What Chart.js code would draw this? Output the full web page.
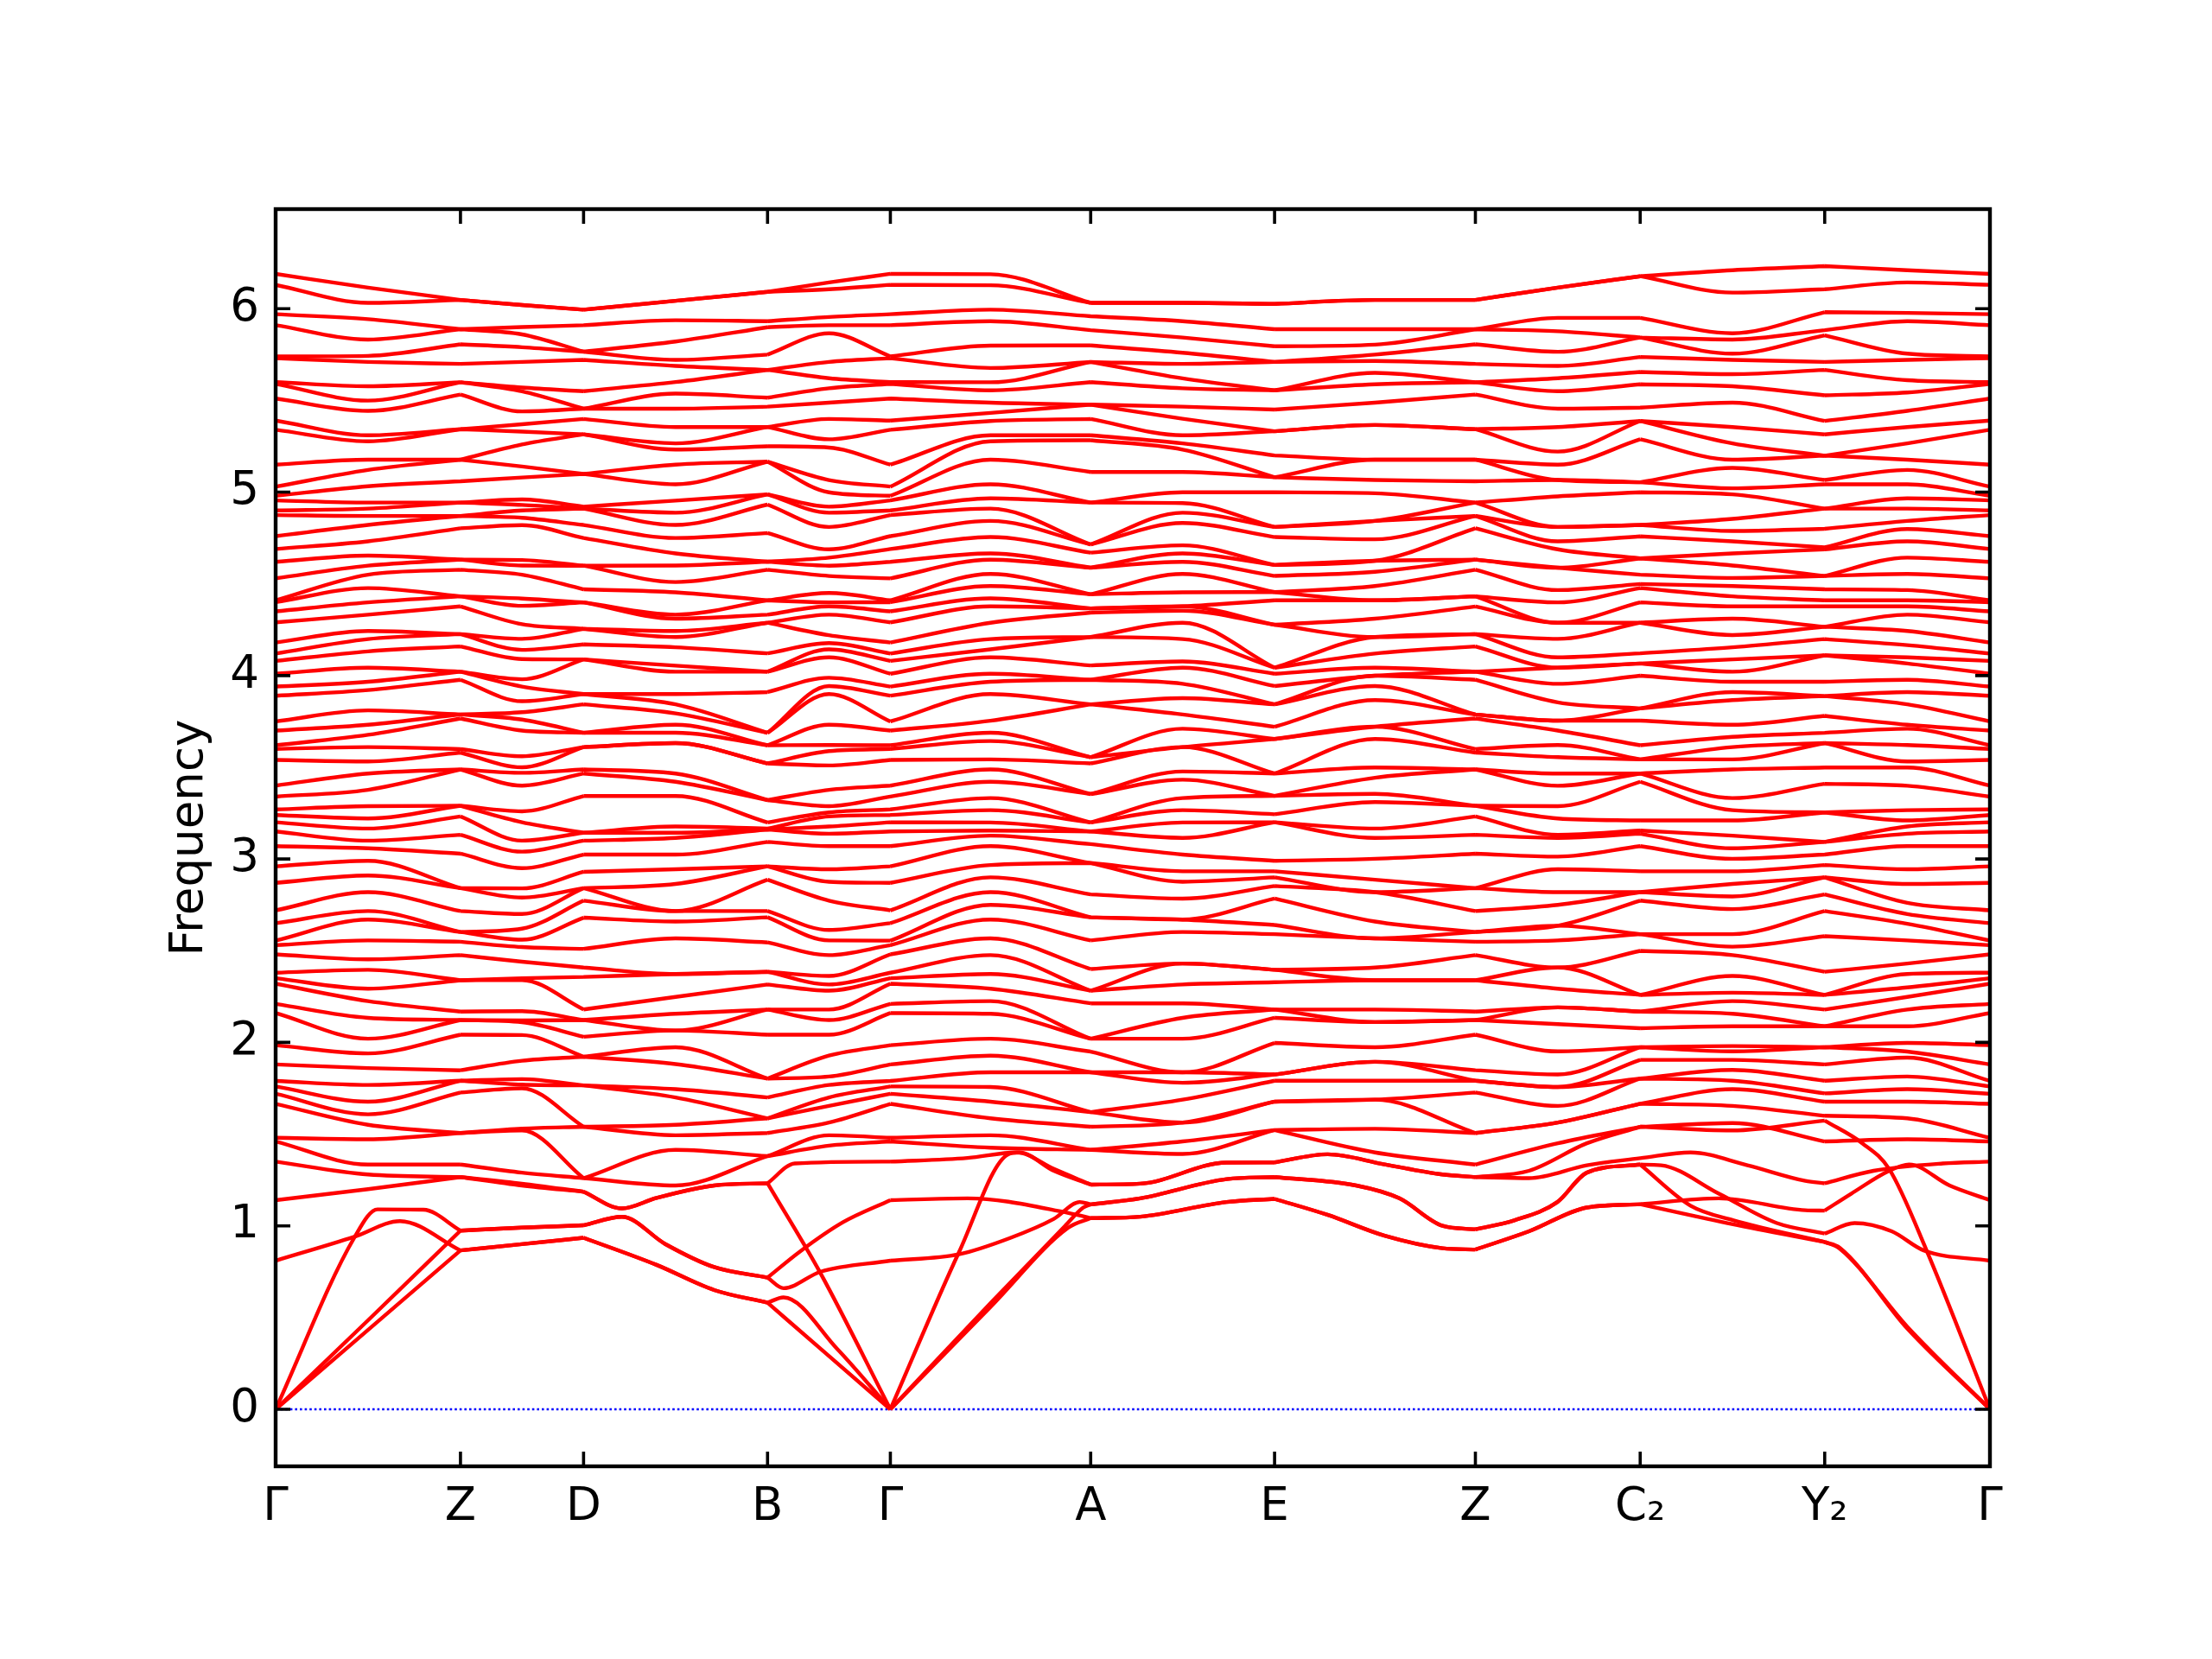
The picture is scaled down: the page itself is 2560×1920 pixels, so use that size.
<!DOCTYPE html>
<html>
<head>
<meta charset="utf-8">
<script src="https://cdn.jsdelivr.net/npm/chart.js@4.4.1/dist/chart.umd.min.js"></script>
<style>
  html, body { margin: 0; padding: 0; background: #fff; }
  #wrap { position: absolute; left: 0; top: 0; width: 2560px; height: 1920px; }
</style>
</head>
<body>
<div id="wrap"><canvas id="bands" width="2560" height="1920"></canvas></div>
<script>
// high-symmetry points along the path
const kTickPos = [0, 214, 356.5, 569.5, 711.7, 943.6, 1156.5, 1389, 1579.8, 1793.4, 1984.7];
const kTickLabels = ['Γ', 'Z', 'D', 'B', 'Γ', 'A', 'E', 'Z', 'C₂', 'Y₂', 'Γ'];
const freqTicks = [0, 1, 2, 3, 4, 5, 6];

// positions where the upper bands were read (points + segment middles)
const kSample = [0, 107, 214, 285.2, 356.5, 463, 569.5, 640.6, 711.7, 827.6, 943.6,
  1050, 1156.5, 1272.7, 1389, 1484.4, 1579.8, 1686.6, 1793.4, 1889, 1984.7];

// upper bands, sorted frequencies at each sample position
const freqG = [1.46,1.48,1.665,1.72,1.76,1.79,1.88,1.985,2.16,2.21,2.32,2.35,2.38,2.48,2.53,2.555,2.65,2.72,2.87,2.96,3.07,3.15,3.20,3.24,3.27,3.34,3.40,3.54,3.60,3.62,3.70,3.75,3.89,3.94,4.01,4.08,4.12,4.18,4.29,4.35,4.40,4.41,4.53,4.62,4.69,4.76,4.875,4.90,4.955,4.98,5.03,5.15,5.34,5.39,5.51,5.59,5.60,5.73,5.74,5.91,5.97,6.13,6.19];
const freqGZ = [1.334,1.472,1.551,1.608,1.677,1.768,1.86,1.94,2.02,2.134,2.225,2.293,2.396,2.453,2.556,2.67,2.716,2.819,2.91,2.99,3.058,3.10,3.166,3.221,3.288,3.377,3.466,3.532,3.61,3.677,3.732,3.81,3.921,3.966,4.043,4.132,4.199,4.243,4.332,4.399,4.477,4.55,4.599,4.654,4.732,4.821,4.87,4.91,4.943,5.032,5.121,5.177,5.277,5.31,5.443,5.499,5.577,5.71,5.743,5.832,5.943,6.032,6.115];
const freqZ = [1.334,1.506,1.506,1.727,1.791,1.791,1.848,2.042,2.122,2.122,2.168,2.339,2.339,2.476,2.549,2.602,2.602,2.716,2.841,2.841,3.029,3.132,3.232,3.29,3.29,3.488,3.488,3.58,3.599,3.766,3.788,3.788,3.977,4.021,4.021,4.159,4.226,4.226,4.377,4.432,4.432,4.577,4.632,4.632,4.803,4.87,4.87,4.943,4.943,5.059,5.177,5.177,5.343,5.343,5.532,5.599,5.599,5.699,5.806,5.888,5.888,6.048,6.048];
const freqZD = [1.29,1.52,1.53,1.75,1.77,1.80,1.90,2.04,2.11,2.12,2.17,2.34,2.35,2.44,2.52,2.56,2.62,2.70,2.79,2.84,2.95,3.04,3.10,3.20,3.26,3.40,3.47,3.50,3.56,3.70,3.76,3.80,3.86,3.94,3.98,4.09,4.14,4.20,4.28,4.38,4.42,4.55,4.60,4.63,4.82,4.86,4.90,4.93,4.96,5.08,5.14,5.26,5.33,5.37,5.44,5.55,5.57,5.71,5.79,5.86,5.90,6.02,6.02];
const freqD = [1.26,1.26,1.54,1.54,1.766,1.766,1.922,1.922,2.031,2.122,2.122,2.18,2.357,2.408,2.51,2.68,2.773,2.841,2.841,2.93,3.024,3.10,3.143,3.143,3.343,3.466,3.488,3.61,3.61,3.688,3.688,3.843,3.899,3.899,4.088,4.088,4.17,4.255,4.255,4.399,4.399,4.47,4.599,4.599,4.75,4.821,4.91,4.91,4.921,5.099,5.099,5.315,5.315,5.399,5.455,5.455,5.55,5.721,5.766,5.766,5.91,5.995,5.995];
const freqDB = [1.22,1.414,1.494,1.551,1.70,1.745,1.882,1.974,2.065,2.065,2.156,2.248,2.373,2.373,2.567,2.659,2.716,2.716,2.864,2.944,3.024,3.115,3.143,3.177,3.343,3.421,3.466,3.632,3.632,3.688,3.732,3.794,3.843,3.899,4.021,4.054,4.154,4.21,4.243,4.31,4.332,4.454,4.51,4.60,4.666,4.75,4.821,4.888,4.954,5.043,5.15,5.232,5.266,5.355,5.455,5.537,5.60,5.688,5.721,5.821,5.937,6.043,6.043];
const freqB = [1.38,1.38,1.506,1.586,1.586,1.70,1.803,1.803,2.042,2.179,2.179,2.316,2.385,2.385,2.545,2.682,2.716,2.887,2.96,2.96,3.093,3.161,3.161,3.166,3.199,3.321,3.321,3.521,3.521,3.62,3.62,3.688,3.688,3.91,4.021,4.021,4.121,4.288,4.288,4.332,4.41,4.41,4.577,4.621,4.621,4.777,4.932,4.988,4.988,5.166,5.166,5.25,5.355,5.355,5.466,5.515,5.666,5.666,5.75,5.899,5.932,6.092,6.092];
const freqBG = [1.437,1.494,1.563,1.654,1.70,1.768,1.814,1.928,2.042,2.122,2.179,2.282,2.316,2.362,2.476,2.556,2.613,2.773,2.876,2.944,3.07,3.138,3.177,3.232,3.254,3.288,3.377,3.51,3.588,3.621,3.732,3.899,3.943,3.988,4.099,4.143,4.177,4.22,4.332,4.377,4.399,4.45,4.543,4.599,4.643,4.688,4.81,4.888,4.921,4.999,5.066,5.243,5.288,5.399,5.488,5.566,5.621,5.71,5.866,5.91,5.955,6.106,6.143];
const freqGA = [1.426,1.494,1.586,1.677,1.757,1.837,1.928,2.02,2.156,2.225,2.293,2.373,2.476,2.567,2.67,2.75,2.819,2.9,2.967,3.07,3.127,3.155,3.199,3.266,3.332,3.421,3.488,3.543,3.643,3.688,3.754,3.899,3.966,4.01,4.099,4.143,4.199,4.288,4.377,4.421,4.488,4.554,4.632,4.666,4.755,4.843,4.91,4.966,5.043,5.177,5.277,5.31,5.388,5.432,5.488,5.555,5.599,5.677,5.799,5.932,5.995,6.128,6.188];
const freqA = [1.414,1.414,1.54,1.62,1.62,1.837,1.837,1.95,2.02,2.02,2.213,2.282,2.282,2.40,2.556,2.682,2.682,2.807,2.978,2.978,3.081,3.15,3.15,3.199,3.199,3.354,3.354,3.521,3.555,3.555,3.843,3.843,3.977,3.977,4.055,4.21,4.21,4.343,4.366,4.366,4.443,4.443,4.588,4.588,4.67,4.715,4.715,4.943,4.943,5.11,5.283,5.31,5.399,5.477,5.477,5.60,5.71,5.71,5.80,5.883,5.959,6.032,6.032];
const freqAE = [1.392,1.46,1.563,1.563,1.688,1.78,1.837,1.837,2.02,2.134,2.213,2.316,2.43,2.43,2.602,2.67,2.67,2.784,2.876,2.933,3.024,3.115,3.199,3.266,3.332,3.432,3.477,3.61,3.61,3.71,3.788,3.877,3.955,4.043,4.077,4.199,4.288,4.354,4.377,4.377,4.454,4.554,4.62,4.666,4.71,4.832,4.888,4.94,4.999,5.11,5.232,5.266,5.31,5.40,5.466,5.566,5.62,5.699,5.76,5.843,5.932,6.032,6.032];
const freqE = [1.522,1.522,1.677,1.677,1.791,1.825,1.825,1.997,2.134,2.179,2.179,2.328,2.396,2.396,2.59,2.64,2.784,2.853,2.9,2.933,2.99,3.2,3.2,3.244,3.344,3.344,3.466,3.466,3.654,3.654,3.721,3.843,3.843,3.943,4.01,4.043,4.043,4.277,4.277,4.41,4.455,4.455,4.543,4.603,4.603,4.755,4.81,4.81,4.999,5.081,5.081,5.20,5.332,5.332,5.45,5.555,5.555,5.71,5.71,5.795,5.888,6.026,6.026];
const freqEZ = [1.40,1.529,1.688,1.688,1.791,1.894,1.894,1.974,2.111,2.111,2.179,2.339,2.339,2.408,2.567,2.567,2.659,2.819,2.819,2.887,3.001,3.115,3.166,3.31,3.355,3.443,3.499,3.654,3.721,3.721,3.866,3.943,3.999,3.999,4.043,4.12,4.21,4.21,4.31,4.41,4.41,4.488,4.566,4.626,4.626,4.743,4.843,4.843,4.994,5.066,5.177,5.177,5.366,5.366,5.488,5.588,5.65,5.715,5.75,5.804,5.888,6.048,6.048];
const freqZC = [1.45,1.563,1.563,1.654,1.757,1.757,1.825,1.951,2.1,2.191,2.191,2.293,2.408,2.408,2.556,2.636,2.636,2.75,2.819,2.944,3.013,3.115,3.132,3.221,3.288,3.399,3.466,3.555,3.621,3.70,3.754,3.754,3.854,3.955,4.043,4.043,4.099,4.20,4.288,4.288,4.399,4.466,4.588,4.588,4.688,4.732,4.81,4.81,4.977,5.066,5.066,5.15,5.221,5.355,5.455,5.55,5.621,5.688,5.765,5.877,5.95,6.115,6.115];
const freqC2 = [1.54,1.666,1.666,1.803,1.803,1.905,1.974,1.974,2.077,2.168,2.168,2.259,2.259,2.499,2.59,2.59,2.773,2.819,2.819,2.933,3.07,3.138,3.155,3.21,3.421,3.466,3.466,3.543,3.543,3.62,3.754,3.821,3.821,3.999,4.066,4.066,4.121,4.288,4.288,4.399,4.477,4.499,4.55,4.639,4.639,4.759,4.821,4.821,4.999,5.054,5.054,5.288,5.388,5.388,5.461,5.588,5.655,5.737,5.843,5.843,5.95,6.177,6.177];
const freqCY = [1.56,1.654,1.745,1.791,1.85,1.905,1.951,1.98,2.088,2.156,2.225,2.271,2.362,2.476,2.522,2.59,2.727,2.796,2.864,2.933,3.001,3.058,3.127,3.21,3.266,3.332,3.488,3.543,3.61,3.666,3.732,3.866,3.91,3.966,4.021,4.088,4.154,4.221,4.31,4.377,4.432,4.488,4.532,4.60,4.666,4.732,4.788,4.854,4.988,5.021,5.132,5.177,5.266,5.355,5.488,5.577,5.643,5.721,5.755,5.832,5.866,6.088,6.21];
const freqY2 = [1.46,1.60,1.677,1.722,1.791,1.88,1.974,1.974,2.088,2.088,2.179,2.259,2.259,2.385,2.579,2.716,2.807,2.9,2.9,2.967,3.024,3.093,3.093,3.254,3.254,3.41,3.499,3.632,3.632,3.688,3.78,3.888,3.888,3.966,4.11,4.11,4.199,4.266,4.266,4.377,4.41,4.47,4.543,4.543,4.688,4.699,4.80,4.91,4.91,5.043,5.066,5.199,5.199,5.315,5.388,5.528,5.666,5.71,5.855,5.883,5.981,6.106,6.232];
const freqYG = [1.472,1.586,1.677,1.745,1.814,1.917,1.95,1.997,2.088,2.179,2.248,2.30,2.373,2.43,2.556,2.647,2.70,2.761,2.864,2.944,3.07,3.138,3.177,3.21,3.266,3.399,3.499,3.532,3.621,3.71,3.732,3.843,3.91,3.977,4.066,4.099,4.166,4.243,4.332,4.377,4.41,4.466,4.554,4.643,4.732,4.799,4.843,4.91,4.966,5.043,5.121,5.177,5.266,5.355,5.443,5.543,5.61,5.721,5.755,5.932,5.977,6.143,6.21];

// six lowest branches, traced individually as [q, frequency]
const lowBand1 = [[0,0],[107,0.433],[214,0.866],[285,0.90],[356.5,0.935],[441,0.787],[507.7,0.65],[569.5,0.581],[640.6,0.29],[711.7,0],[828,0.56],[917.7,0.99],[943.6,1.042],[1001,1.05],[1101,1.13],[1156.5,1.147],[1217.7,1.06],[1284,0.946],[1351,0.878],[1389,0.871],[1451,0.97],[1518,1.10],[1579.8,1.118],[1671,1.15],[1771,1.085],[1793.4,1.083],[1824,1.175],[1868,1.30],[1891,1.335],[1938,1.22],[1984.7,1.14]];
const lowBand2 = [[0,0],[107,0.485],[214,0.974],[285,0.99],[356.5,1.003],[401,1.049],[451,0.901],[507.7,0.775],[569.5,0.718],[588,0.66],[631,0.75],[711.7,0.81],[791,0.845],[851,0.935],[901,1.038],[931,1.13],[943.6,1.117],[1001,1.15],[1101,1.255],[1156.5,1.266],[1251,1.22],[1301,1.15],[1351,1.0],[1389,0.981],[1434,1.03],[1484,1.13],[1518,1.29],[1579.8,1.334],[1638,1.11],[1688,1.03],[1793.4,0.912],[1811,0.88],[1889,0.44],[1984.7,0]];
const lowBand3 = [[0,0],[91,0.935],[118,1.09],[171,1.088],[214,0.974],[285,0.99],[356.5,1.003],[401,1.049],[451,0.901],[507.7,0.775],[569.5,0.718],[607,0.86],[657,1.02],[711.7,1.14],[801,1.15],[918,1.07],[943.6,1.042],[1001,1.05],[1101,1.13],[1156.5,1.147],[1217.7,1.06],[1284,0.946],[1351,0.878],[1389,0.871],[1451,0.97],[1518,1.10],[1579.8,1.118],[1686,1.01],[1793.4,0.912],[1811,0.875],[1889,0.45],[1984.7,0]];
const lowBand4 = [[0,0.81],[91,0.94],[144,1.026],[214,0.866],[285,0.90],[356.5,0.935],[441,0.787],[507.7,0.65],[569.5,0.581],[588,0.61],[650,0.33],[711.7,0],[828,0.58],[914,1.0],[935,1.10],[943.6,1.117],[1001,1.15],[1101,1.255],[1156.5,1.266],[1251,1.22],[1301,1.15],[1351,1.0],[1389,0.981],[1434,1.03],[1484,1.13],[1518,1.29],[1579.8,1.334],[1604,1.33],[1671,1.175],[1738,1.015],[1793.4,0.958],[1828,1.015],[1871,0.97],[1908,0.866],[1984.7,0.81]];
const lowBand5 = [[0,1.14],[107,1.20],[214,1.266],[285,1.22],[356.5,1.186],[401,1.095],[441,1.152],[507.7,1.22],[569.5,1.232],[631,0.74],[711.7,0],[791,0.855],[848,1.39],[861,1.40],[901,1.30],[943.6,1.225],[1001,1.23],[1101,1.345],[1156.5,1.346],[1218,1.39],[1284,1.335],[1351,1.28],[1389,1.266],[1451,1.26],[1518,1.33],[1579.8,1.369],[1638,1.40],[1704,1.33],[1771,1.245],[1793.4,1.232],[1850,1.30],[1930,1.34],[1984.7,1.35]];
const lowBand6 = [[0,1.35],[107,1.28],[214,1.266],[285,1.23],[356.5,1.186],[401,1.095],[441,1.152],[507.7,1.22],[569.5,1.232],[601,1.34],[711.7,1.35],[801,1.37],[858,1.40],[901,1.31],[943.6,1.225],[1001,1.23],[1101,1.345],[1156.5,1.346],[1218,1.39],[1284,1.335],[1351,1.28],[1389,1.266],[1451,1.30],[1518,1.45],[1579.8,1.54],[1686,1.52],[1793.4,1.574],[1837,1.45],[1868,1.31],[1911,0.87],[1984.7,0]];

const upperCols = [freqG, freqGZ, freqZ, freqZD, freqD, freqDB, freqB, freqBG, freqG, freqGA, freqA,
  freqAE, freqE, freqEZ, freqZ, freqZC, freqC2, freqCY, freqY2, freqYG, freqG];
const lowBands = [lowBand1, lowBand2, lowBand3, lowBand4, lowBand5, lowBand6];

const RED = '#ff0000';
const bandStyle = {
  borderColor: RED,
  borderWidth: 4.4,
  pointRadius: 0,
  fill: false,
  spanGaps: false,
  cubicInterpolationMode: 'monotone',
};

// break every band at the inner high-symmetry points so each path segment
// gets its own spline (kinks at the labelled points, sharp V at Γ)
const innerTicks = kTickPos.slice(1, -1);
function segmented(points) {
  const out = [];
  points.forEach((p, i) => {
    out.push(p);
    if (i > 0 && i < points.length - 1 && innerTicks.includes(p.x)) {
      out.push({ x: p.x, y: null });
      out.push({ x: p.x, y: p.y });
    }
  });
  return out;
}

const datasets = [];
const nUpper = Math.min(...upperCols.map((c) => c.length));
for (let i = 0; i < nUpper; i++) {
  datasets.push({
    ...bandStyle,
    data: segmented(kSample.map((q, j) => ({ x: q, y: upperCols[j][i] }))),
  });
}
lowBands.forEach((band) => {
  datasets.push({ ...bandStyle, data: segmented(band.map(([q, f]) => ({ x: q, y: f }))) });
});
// zero line last so it is drawn underneath
datasets.push({
  data: [{ x: 0, y: 0 }, { x: kTickPos[kTickPos.length - 1], y: 0 }],
  borderColor: '#0000ff',
  borderWidth: 2.4,
  borderDash: [2.6, 3],
  pointRadius: 0,
  fill: false,
});

// frame and inward ticks on all four sides
const framePlugin = {
  id: 'frame',
  afterDraw(chart) {
    const { ctx, chartArea: a, scales: { x, y } } = chart;
    const tl = 17;
    ctx.save();
    ctx.strokeStyle = '#000';
    ctx.lineWidth = 3.6;
    ctx.beginPath();
    kTickPos.forEach((v) => {
      const px = x.getPixelForValue(v);
      ctx.moveTo(px, a.bottom); ctx.lineTo(px, a.bottom - tl);
      ctx.moveTo(px, a.top); ctx.lineTo(px, a.top + tl);
    });
    freqTicks.forEach((v) => {
      const py = y.getPixelForValue(v);
      ctx.moveTo(a.left, py); ctx.lineTo(a.left + tl, py);
      ctx.moveTo(a.right, py); ctx.lineTo(a.right - tl, py);
    });
    ctx.stroke();
    ctx.lineWidth = 4.4;
    ctx.strokeRect(a.left, a.top, a.right - a.left, a.bottom - a.top);
    ctx.restore();
  },
};

Chart.defaults.font.family = '"DejaVu Sans", sans-serif';
Chart.defaults.color = '#000';

new Chart(document.getElementById('bands'), {
  type: 'line',
  data: { datasets },
  options: {
    responsive: false,
    devicePixelRatio: 1,
    animation: false,
    events: [],
    layout: { padding: { top: 242, right: 257, bottom: 0, left: 0 } },
    plugins: { legend: { display: false }, tooltip: { enabled: false } },
    scales: {
      x: {
        type: 'linear',
        min: 0,
        max: kTickPos[kTickPos.length - 1],
        grid: { display: false },
        border: { display: false },
        afterBuildTicks: (s) => { s.ticks = kTickPos.map((v) => ({ value: v })); },
        afterFit: (s) => { s.height = 223; },
        ticks: {
          autoSkip: false,
          maxRotation: 0,
          padding: 8,
          font: { size: 53 },
          callback: (value, index) => kTickLabels[index],
        },
      },
      y: {
        min: -0.311,
        max: 6.543,
        grid: { display: false, drawTicks: false },
        border: { display: false },
        afterBuildTicks: (s) => { s.ticks = freqTicks.map((v) => ({ value: v })); },
        afterFit: (s) => { s.width = 319; },
        ticks: { padding: 19, font: { size: 53 } },
        title: {
          display: true,
          text: 'Frequency',
          font: { size: 53 },
          padding: { top: 188, bottom: 0 },
        },
      },
    },
  },
  plugins: [framePlugin],
});
</script>
</body>
</html>
